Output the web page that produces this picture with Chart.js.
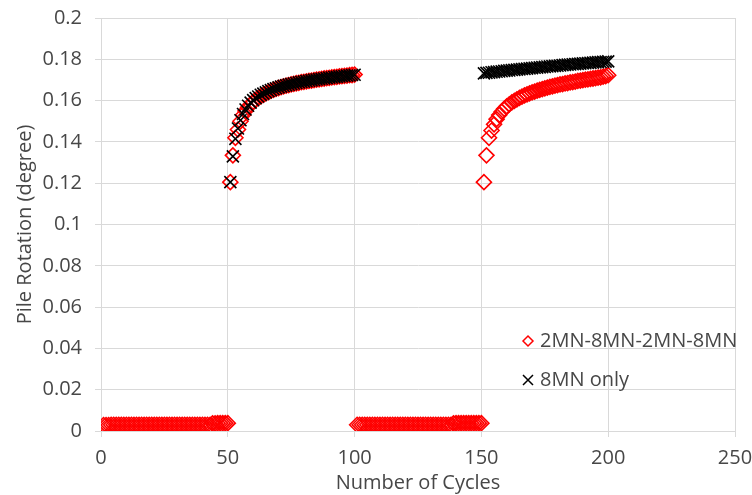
<!DOCTYPE html>
<html>
<head>
<meta charset="utf-8">
<script src="https://cdn.jsdelivr.net/npm/chart.js@4/dist/chart.umd.min.js"></script>
<style>
  html, body { margin: 0; padding: 0; background: #fff; }
  #chart { display: block; }
</style>
</head>
<body>
<canvas id="chart" width="752" height="495"></canvas>
<script>
// series labels
const seriesNames = ['2MN-8MN-2MN-8MN', '8MN only'];

// first cycle of each block of 50 cycles
const blockStarts = [1, 51, 101, 151];

// 2MN-8MN-2MN-8MN, cycles 1-50 (2MN)
const redBlock1 = [
  0.0029, 0.0029, 0.0029, 0.0030, 0.0030, 0.0030, 0.0030, 0.0030, 0.0030, 0.0030,
  0.0030, 0.0030, 0.0030, 0.0030, 0.0030, 0.0030, 0.0030, 0.0030, 0.0030, 0.0030,
  0.0030, 0.0030, 0.0030, 0.0030, 0.0030, 0.0030, 0.0030, 0.0030, 0.0030, 0.0030,
  0.0030, 0.0030, 0.0030, 0.0030, 0.0030, 0.0030, 0.0030, 0.0030, 0.0030, 0.0030,
  0.0030, 0.0030, 0.0030, 0.0037, 0.0037, 0.0038, 0.0038, 0.0038, 0.0038, 0.0038
];
// cycles 51-100 (8MN)
const redBlock2 = [
  0.1205, 0.1335, 0.1420, 0.1460, 0.1500, 0.1530, 0.1550, 0.1568, 0.1582, 0.1594,
  0.1604, 0.1613, 0.1621, 0.1628, 0.1635, 0.1641, 0.1647, 0.1652, 0.1657, 0.1661,
  0.1665, 0.1669, 0.1672, 0.1675, 0.1678, 0.1681, 0.1684, 0.1686, 0.1689, 0.1691,
  0.1693, 0.1695, 0.1697, 0.1699, 0.1701, 0.1703, 0.1705, 0.1707, 0.1709, 0.1710,
  0.1712, 0.1714, 0.1715, 0.1717, 0.1718, 0.1720, 0.1721, 0.1723, 0.1724, 0.1726
];
// cycles 101-150 (2MN)
const redBlock3 = [
  0.0030, 0.0030, 0.0030, 0.0030, 0.0030, 0.0030, 0.0030, 0.0030, 0.0030, 0.0030,
  0.0030, 0.0030, 0.0030, 0.0030, 0.0030, 0.0030, 0.0030, 0.0030, 0.0030, 0.0030,
  0.0030, 0.0030, 0.0030, 0.0030, 0.0030, 0.0030, 0.0030, 0.0030, 0.0030, 0.0030,
  0.0030, 0.0030, 0.0030, 0.0030, 0.0030, 0.0030, 0.0030, 0.0030, 0.0037, 0.0038,
  0.0038, 0.0038, 0.0038, 0.0038, 0.0038, 0.0038, 0.0038, 0.0038, 0.0038, 0.0038
];
// cycles 151-200 (8MN)
const redBlock4 = [
  0.1205, 0.1335, 0.1420, 0.1455, 0.1485, 0.1510, 0.1530, 0.1546, 0.1560, 0.1572,
  0.1582, 0.1591, 0.1599, 0.1606, 0.1613, 0.1619, 0.1625, 0.1630, 0.1635, 0.1640,
  0.1644, 0.1648, 0.1652, 0.1656, 0.1659, 0.1663, 0.1666, 0.1669, 0.1672, 0.1675,
  0.1678, 0.1680, 0.1683, 0.1685, 0.1688, 0.1690, 0.1692, 0.1695, 0.1697, 0.1699,
  0.1701, 0.1703, 0.1705, 0.1707, 0.1709, 0.1711, 0.1713, 0.1716, 0.1719, 0.1723
];

// 8MN only, cycles 51-100
const blackBlock2 = [
  0.1205, 0.1330, 0.1415, 0.1465, 0.1505, 0.1535, 0.1557, 0.1575, 0.1590, 0.1602,
  0.1612, 0.1620, 0.1628, 0.1634, 0.1640, 0.1646, 0.1651, 0.1656, 0.1660, 0.1664,
  0.1668, 0.1671, 0.1674, 0.1677, 0.1680, 0.1683, 0.1685, 0.1688, 0.1690, 0.1692,
  0.1694, 0.1696, 0.1698, 0.1700, 0.1702, 0.1704, 0.1706, 0.1707, 0.1709, 0.1711,
  0.1712, 0.1714, 0.1715, 0.1717, 0.1718, 0.1719, 0.1721, 0.1722, 0.1724, 0.1725
];
// 8MN only, cycles 151-200
const blackBlock4 = [
  0.1732, 0.1734, 0.1735, 0.1737, 0.1738, 0.1740, 0.1741, 0.1742, 0.1744, 0.1745,
  0.1746, 0.1748, 0.1749, 0.1750, 0.1751, 0.1753, 0.1754, 0.1755, 0.1756, 0.1757,
  0.1759, 0.1760, 0.1761, 0.1762, 0.1763, 0.1765, 0.1766, 0.1767, 0.1768, 0.1769,
  0.1770, 0.1772, 0.1773, 0.1774, 0.1775, 0.1776, 0.1777, 0.1778, 0.1779, 0.1780,
  0.1781, 0.1782, 0.1783, 0.1784, 0.1785, 0.1786, 0.1787, 0.1788, 0.1789, 0.1790
];

const textColor = '#474747';
const gridColor = '#d9d9d9';
const fontFamily = '"Open Sans", "Noto Sans", sans-serif';

// turn a block of values into {x: cycle, y: value} points
function toPoints(startCycle, values) {
  return values.map((v, i) => ({ x: startCycle + i, y: v }));
}

const redPoints = [].concat(
  toPoints(blockStarts[0], redBlock1),
  toPoints(blockStarts[1], redBlock2),
  toPoints(blockStarts[2], redBlock3),
  toPoints(blockStarts[3], redBlock4)
);
const blackPoints = [].concat(
  toPoints(blockStarts[1], blackBlock2),
  toPoints(blockStarts[3], blackBlock4)
);

// legend drawn inside the plot, bottom right like the original
const insideLegend = {
  id: 'insideLegend',
  afterDraw(chart) {
    const ctx = chart.ctx;
    ctx.save();
    ctx.font = '20px ' + fontFamily;
    ctx.fillStyle = textColor;
    ctx.textBaseline = 'middle';
    ctx.textAlign = 'left';

    // diamond
    let x = 528, y = 341, r = 5;
    ctx.strokeStyle = '#ff0000';
    ctx.lineWidth = 1.5;
    ctx.beginPath();
    ctx.moveTo(x - r, y);
    ctx.lineTo(x, y - r);
    ctx.lineTo(x + r, y);
    ctx.lineTo(x, y + r);
    ctx.closePath();
    ctx.stroke();
    ctx.fillText(seriesNames[0], 540, y);

    // cross
    y = 380; r = 5;
    ctx.strokeStyle = '#000000';
    ctx.beginPath();
    ctx.moveTo(x - r, y - r);
    ctx.lineTo(x + r, y + r);
    ctx.moveTo(x + r, y - r);
    ctx.lineTo(x - r, y + r);
    ctx.stroke();
    ctx.fillText(seriesNames[1], 540, y);
    ctx.restore();
  }
};

new Chart(document.getElementById('chart'), {
  type: 'scatter',
  data: {
    datasets: [
      {
        label: seriesNames[0],
        data: redPoints,
        pointStyle: 'rectRot',
        pointRadius: 7.5,
        pointBorderWidth: 1.6,
        borderColor: '#ff0000',
        backgroundColor: 'rgba(0,0,0,0)',
        order: 1
      },
      {
        label: seriesNames[1],
        data: blackPoints,
        pointStyle: 'crossRot',
        pointRadius: 8.5,
        pointBorderWidth: 1.6,
        borderColor: '#000000',
        backgroundColor: '#000000',
        order: 0
      }
    ]
  },
  options: {
    responsive: false,
    animation: false,
    devicePixelRatio: 1,
    layout: { padding: { top: 18, right: 17, left: 0, bottom: 0 } },
    plugins: {
      legend: { display: false },
      tooltip: { enabled: false }
    },
    scales: {
      x: {
        type: 'linear',
        min: 0,
        max: 250,
        ticks: {
          stepSize: 50,
          color: textColor,
          font: { family: fontFamily, size: 20 },
          padding: 9
        },
        grid: { color: gridColor, tickLength: 6 },
        border: { color: gridColor },
        title: {
          display: true,
          text: 'Number of Cycles',
          color: textColor,
          font: { family: fontFamily, size: 20 },
          padding: { top: 0, bottom: 0 }
        },
        afterFit(scale) {
          scale.height = 64;
          scale.paddingLeft = 0;
          scale.paddingRight = 0;
        }
      },
      y: {
        min: 0,
        max: 0.2,
        ticks: {
          stepSize: 0.02,
          color: textColor,
          font: { family: fontFamily, size: 20 },
          padding: 13,
          callback: v => String(Math.round(v * 100) / 100)
        },
        grid: { color: gridColor, tickLength: 6 },
        border: { color: gridColor },
        title: {
          display: true,
          text: 'Pile Rotation (degree)',
          color: textColor,
          font: { family: fontFamily, size: 20 },
          padding: { top: 13, bottom: 0 }
        },
        afterFit(scale) {
          scale.width = 101;
          scale.paddingTop = 0;
          scale.paddingBottom = 0;
        }
      }
    }
  },
  plugins: [insideLegend]
});
</script>
</body>
</html>
